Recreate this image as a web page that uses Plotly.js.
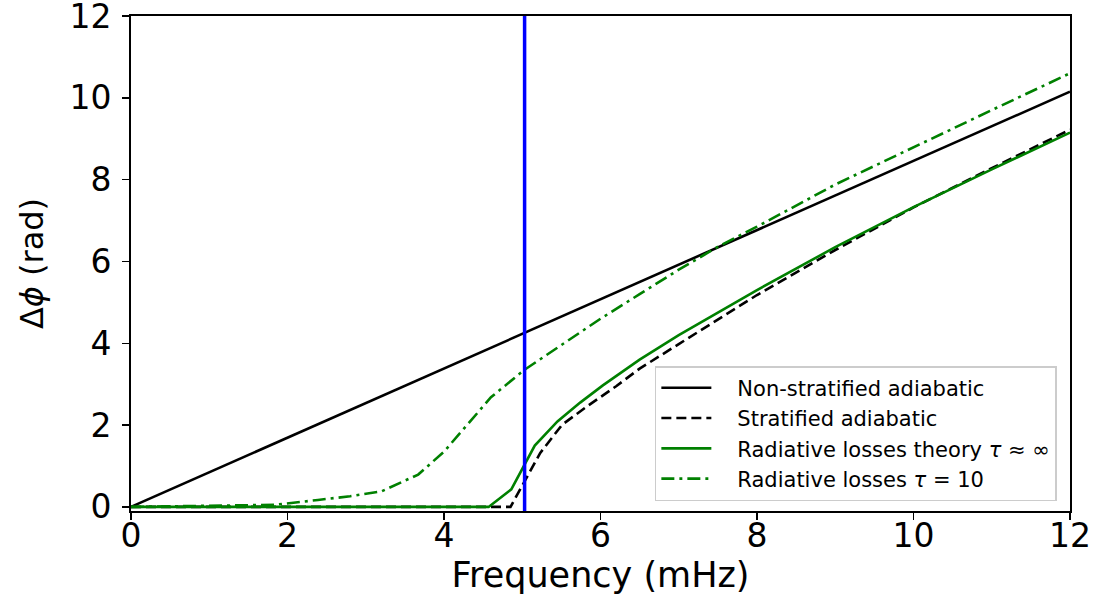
<!DOCTYPE html>
<html>
<head>
<meta charset="utf-8">
<script src="https://cdn.plot.ly/plotly-3.0.1.min.js"></script>
<style>
  html, body { margin: 0; padding: 0; background: #ffffff; }
  #chart { width: 1097px; height: 596px; }
</style>
</head>
<body>
<div id="chart"></div>
<script>
// Phase shift vs. frequency for the different atmosphere models (mHz, rad)
const nonStratFreq  = [0, 3, 6, 9, 12];
const nonStratPhase = [0, 2.54, 5.08, 7.62, 10.15];

const stratFreq  = [0, 4.85, 5.04, 5.23, 5.51, 5.83, 6.2, 6.5, 7, 7.5, 8, 9, 10, 11, 12];
const stratPhase = [0, 0, 0.66, 1.32, 2.01, 2.46, 2.95, 3.38, 3.98, 4.58, 5.18, 6.28, 7.32, 8.28, 9.22];

const radInfFreq  = [0, 4.57, 4.86, 5.16, 5.45, 5.74, 6.03, 6.5, 7, 7.5, 8, 9, 10, 11, 12];
const radInfPhase = [0, 0, 0.43, 1.5, 2.09, 2.55, 2.97, 3.6, 4.2, 4.76, 5.3, 6.35, 7.33, 8.25, 9.15];

const rad10Freq  = [0, 1, 1.83, 2.39, 2.8, 3.2, 3.67, 4.0, 4.31, 4.6, 5.02, 5.5, 6.0, 6.5, 7.0, 7.53, 8, 9, 10, 11, 12];
const rad10Phase = [0, 0.02, 0.05, 0.17, 0.26, 0.38, 0.79, 1.35, 2.05, 2.68, 3.34, 3.95, 4.6, 5.2, 5.8, 6.39, 6.85, 7.88, 8.8, 9.7, 10.6];

// Acoustic cut-off frequency marker (mHz) and its vertical extent (rad)
const cutoffFreq = 5.03;
const cutoffSpan = [-0.1, 12];

const seriesNames = [
  'Non-stratified adiabatic',
  'Stratified adiabatic',
  'Radiative losses theory <i>τ</i> ≈ ∞',
  'Radiative losses <i>τ</i> = 10'
];

const xTicks = [0, 2, 4, 6, 8, 10, 12];
const yTicks = [0, 2, 4, 6, 8, 10, 12];

const font = 'DejaVu Sans, Verdana, sans-serif';
const lw = 2.6;
const gap = '\u2003';   // spacing between legend sample and its label

const traces = [
  { x: nonStratFreq, y: nonStratPhase, name: gap + seriesNames[0], mode: 'lines',
    line: { color: '#000000', width: lw } },
  { x: stratFreq, y: stratPhase, name: gap + seriesNames[1], mode: 'lines',
    line: { color: '#000000', width: lw, dash: '10px,5px' } },
  { x: radInfFreq, y: radInfPhase, name: gap + seriesNames[2], mode: 'lines',
    line: { color: '#008000', width: lw } },
  { x: rad10Freq, y: rad10Phase, name: gap + seriesNames[3], mode: 'lines',
    line: { color: '#008000', width: lw, dash: '13px,5px,3px,5px' } },
  { x: [cutoffFreq, cutoffFreq], y: cutoffSpan, mode: 'lines', showlegend: false,
    hoverinfo: 'skip', line: { color: '#0000ff', width: 3.5 } }
];

const axisCommon = {
  showgrid: false, zeroline: false,
  showline: true, linecolor: '#000000', linewidth: 1.8, mirror: true,
  ticks: 'outside', ticklen: 7, tickwidth: 1.5, tickcolor: '#000000',
  ticklabeloverflow: 'allow',
  tickfont: { family: font, size: 33, color: '#000000' }
};

const layout = {
  width: 1097, height: 596,
  margin: { l: 131, r: 27, t: 16, b: 85 },
  paper_bgcolor: '#ffffff', plot_bgcolor: '#ffffff',
  font: { family: font, color: '#000000' },
  showlegend: true,
  xaxis: Object.assign({}, axisCommon, {
    range: [0, 12], tickmode: 'array', tickvals: xTicks, ticktext: xTicks.map(String),
    ticklabelstandoff: -12,
    title: { text: 'Frequency (mHz)', font: { family: font, size: 35, color: '#000000' }, standoff: 8 }
  }),
  yaxis: Object.assign({}, axisCommon, {
    range: [-0.1, 12], tickmode: 'array', tickvals: yTicks, ticktext: yTicks.map(String),
    ticklabelstandoff: 4,
    title: { text: 'Δ<i>ϕ</i> (rad)', font: { family: font, size: 32, color: '#000000' }, standoff: 16 }
  }),
  legend: {
    x: 0.986, xanchor: 'right', y: 0.02, yanchor: 'bottom',
    bgcolor: 'rgba(255,255,255,0.85)', bordercolor: '#cccccc', borderwidth: 1.5,
    font: { family: font, size: 21, color: '#000000' },
    itemwidth: 50, tracegroupgap: 0
  }
};

Plotly.newPlot('chart', traces, layout, { displayModeBar: false, staticPlot: true });
</script>
</body>
</html>
